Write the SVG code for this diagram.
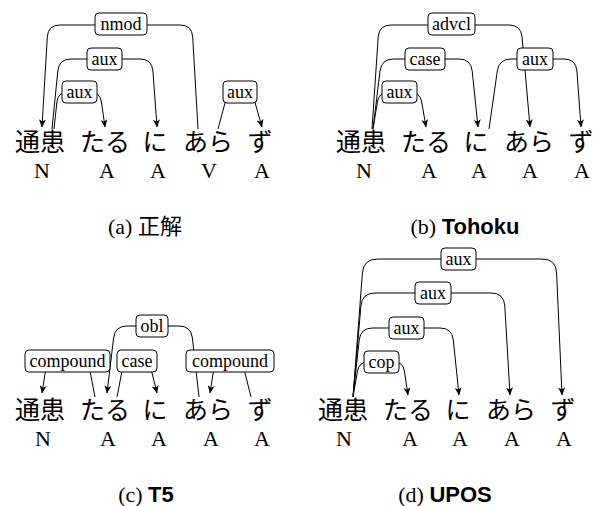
<svg xmlns="http://www.w3.org/2000/svg" width="594" height="506" viewBox="0 0 594 506">
  <defs>
    <marker id="ah" viewBox="0 0 8 7" refX="7.6" refY="3.5" markerWidth="8" markerHeight="7" markerUnits="userSpaceOnUse" orient="auto">
      <path d="M0,0 L8,3.5 L0,7 L2.2,3.5 Z" fill="#000"/>
    </marker>
  </defs>
  <style>
    .w { font-family: "Noto Sans CJK JP", "Noto Sans CJK SC", sans-serif; font-size: 25px; text-anchor: middle; fill: #000; }
    .t { font-family: "Liberation Serif", serif; font-size: 22px; text-anchor: middle; fill: #000; }
    .e { fill: none; stroke: #000; stroke-width: 1; }
    .arr { marker-end: url(#ah); }
    .lb rect { fill: #fff; stroke: #000; stroke-width: 1; }
    .lb text { font-family: "Liberation Serif", serif; font-size: 18px; text-anchor: middle; fill: #000; }
    .cap { font-family: "Liberation Serif", serif; font-size: 22px; text-anchor: middle; fill: #000; }
    .cj { font-family: "Noto Sans CJK JP", sans-serif; }
    .bf { font-family: "Liberation Sans", Arial, sans-serif; font-weight: bold; }
  </style>
  <rect width="594" height="506" fill="#fff"/>

  <!-- (a) reference parse -->
  <g id="a-w1"><text class="w" x="40" y="151">通患</text><text class="t" x="42" y="178">N</text></g>
  <g id="a-w2"><text class="w" x="105" y="151">たる</text><text class="t" x="107" y="178">A</text></g>
  <g id="a-w3"><text class="w" x="155" y="151">に</text><text class="t" x="158" y="178">A</text></g>
  <g id="a-w4"><text class="w" x="208" y="151">あら</text><text class="t" x="209" y="178">V</text></g>
  <g id="a-w5"><text class="w" x="260" y="151">ず</text><text class="t" x="262" y="178">A</text></g>
  <g id="a-edges">
    <path class="e arr" d="M198,129 L192.7,37 Q192,25 180,25 L60,25 Q48,25 47.3,37 L42,127"/>
    <path class="e arr" d="M52,129 L57.8,71 Q59,59 71,59 L140,59 Q152,59 152.9,71 L157,127"/>
    <path class="e arr" d="M54,129 L56.9,102 Q58,92 68,92 L90,92 Q100,92 101.4,102 L105,127"/>
    <path class="e arr" d="M218,129 L225.8,100 Q228,92 236,92 L244,92 Q252,92 254.3,100 L262,127"/>
    <g class="lb"><rect x="95" y="13" width="52" height="22" rx="4"/><text x="121" y="30">nmod</text></g>
    <g class="lb"><rect x="87" y="48" width="35" height="22" rx="4"/><text x="104.5" y="65">aux</text></g>
    <g class="lb"><rect x="62" y="81" width="35" height="22" rx="4"/><text x="79.5" y="98">aux</text></g>
    <g class="lb"><rect x="223" y="81" width="34" height="22" rx="4"/><text x="240" y="98">aux</text></g>
  </g>
  <text class="cap" x="145" y="234">(a) <tspan class="cj">正解</tspan></text>

  <!-- (b) Tohoku -->
  <g id="b-w1"><text class="w" x="361" y="151">通患</text><text class="t" x="364" y="178">N</text></g>
  <g id="b-w2"><text class="w" x="426" y="151">たる</text><text class="t" x="429" y="178">A</text></g>
  <g id="b-w3"><text class="w" x="476" y="151">に</text><text class="t" x="479" y="178">A</text></g>
  <g id="b-w4"><text class="w" x="529" y="151">あら</text><text class="t" x="530" y="178">A</text></g>
  <g id="b-w5"><text class="w" x="581" y="151">ず</text><text class="t" x="582" y="178">A</text></g>
  <g id="b-edges">
    <path class="e arr" d="M372,129 L378.2,37 Q379,25 391,25 L509,25 Q521,25 522.1,37 L530,127"/>
    <path class="e arr" d="M373,129 L380,71 Q381.5,59 393.5,59 L459,59 Q471,59 472.2,71 L478,127"/>
    <path class="e arr" d="M373,129 L377.4,102 Q379,92 389,92 L410,92 Q420,92 421.7,102 L426,127"/>
    <path class="e arr" d="M489,129 L497.3,71 Q499,59 511,59 L564,59 Q576,59 576.9,71 L581,127"/>
    <g class="lb"><rect x="428" y="13" width="47" height="22" rx="4"/><text x="451.5" y="30">advcl</text></g>
    <g class="lb"><rect x="405" y="48" width="40" height="22" rx="4"/><text x="425" y="65">case</text></g>
    <g class="lb"><rect x="382" y="81" width="35" height="22" rx="4"/><text x="399.5" y="98">aux</text></g>
    <g class="lb"><rect x="517" y="48" width="36" height="22" rx="4"/><text x="535" y="65">aux</text></g>
  </g>
  <text class="cap" x="465" y="234">(b) <tspan class="bf">Tohoku</tspan></text>

  <!-- (c) T5 -->
  <g id="c-w1"><text class="w" x="40" y="419">通患</text><text class="t" x="43" y="446">N</text></g>
  <g id="c-w2"><text class="w" x="105" y="419">たる</text><text class="t" x="108" y="446">A</text></g>
  <g id="c-w3"><text class="w" x="155" y="419">に</text><text class="t" x="159" y="446">A</text></g>
  <g id="c-w4"><text class="w" x="208" y="419">あら</text><text class="t" x="211" y="446">A</text></g>
  <g id="c-w5"><text class="w" x="260" y="419">ず</text><text class="t" x="262" y="446">A</text></g>
  <g id="c-edges">
    <path class="e arr" d="M199,397 L192.4,338 Q191,326 179,326 L127,326 Q115,326 113.6,338 L107,393"/>
    <path class="e arr" d="M95,397 L89.6,369 Q88,361 80,361 L55,361 Q47,361 45.8,369 L42,393"/>
    <path class="e arr" d="M117,397 L122.4,369 Q124,361 132,361 L141,361 Q149,361 151,369 L157,393"/>
    <path class="e arr" d="M251,397 L244,369 Q242,361 234,361 L223,361 Q215,361 213.8,369 L210,393"/>
    <g class="lb"><rect x="136" y="315" width="32" height="22" rx="4"/><text x="152" y="332">obl</text></g>
    <g class="lb"><rect x="25" y="350" width="85" height="22" rx="4"/><text x="67.5" y="367">compound</text></g>
    <g class="lb"><rect x="117" y="350" width="40" height="22" rx="4"/><text x="137" y="367">case</text></g>
    <g class="lb"><rect x="186" y="350" width="88" height="22" rx="4"/><text x="230" y="367">compound</text></g>
  </g>
  <text class="cap" x="146" y="502">(c) <tspan class="bf">T5</tspan></text>

  <!-- (d) UPOS -->
  <g id="d-w1"><text class="w" x="343" y="419">通患</text><text class="t" x="344" y="446">N</text></g>
  <g id="d-w2"><text class="w" x="408" y="419">たる</text><text class="t" x="410" y="446">A</text></g>
  <g id="d-w3"><text class="w" x="458" y="419">に</text><text class="t" x="460" y="446">A</text></g>
  <g id="d-w4"><text class="w" x="511" y="419">あら</text><text class="t" x="512" y="446">A</text></g>
  <g id="d-w5"><text class="w" x="563" y="419">ず</text><text class="t" x="564" y="446">A</text></g>
  <g id="d-edges">
    <path class="e arr" d="M353,397 L362.4,273 Q363.5,259 377.5,259 L542,259 Q556,259 556.6,273 L562,395"/>
    <path class="e arr" d="M353,397 L360.9,306 Q362,293 375,293 L491,293 Q504,293 504.8,306 L510,395"/>
    <path class="e arr" d="M353,397 L359.2,340 Q360.5,328 372.5,328 L440,328 Q452,328 453.3,340 L459,395"/>
    <path class="e arr" d="M353,397 L357.5,371 Q359,362 368,362 L394,362 Q403,362 404.4,371 L408,395"/>
    <g class="lb"><rect x="441" y="248" width="35" height="22" rx="4"/><text x="458.5" y="265">aux</text></g>
    <g class="lb"><rect x="415" y="282" width="36" height="22" rx="4"/><text x="433" y="299">aux</text></g>
    <g class="lb"><rect x="389" y="317" width="35" height="22" rx="4"/><text x="406.5" y="334">aux</text></g>
    <g class="lb"><rect x="364" y="351" width="35" height="22" rx="4"/><text x="381.5" y="368">cop</text></g>
  </g>
  <text class="cap" x="445" y="502">(d) <tspan class="bf">UPOS</tspan></text>
</svg>
